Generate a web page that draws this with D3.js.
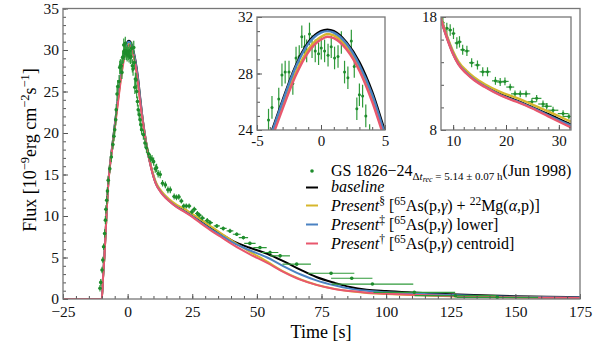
<!DOCTYPE html>
<html>
<head>
<meta charset="utf-8">
<script src="https://cdn.jsdelivr.net/npm/d3@7"></script>
<style>
  body { margin: 0; background: #fff; }
  figure { margin: 0; }
  svg { display: block; }
</style>
</head>
<body>
<figure></figure>
<script>
// model light curves, flux in 1e-9 erg/cm2/s
const modelTime = [-25, -10, -9.5, -9, -8.5, -8, -7.5, -7, -6, -5, -4, -3, -2, -1, 0, 0.5, 1, 2, 3, 4, 5, 6, 7, 8, 9, 10, 11, 12.5, 14, 16, 19, 22, 25, 28, 32, 36, 41, 47, 54, 60, 67, 73, 80, 86, 92.5, 100, 110, 125, 137, 150, 162, 175]
const baseline    = [0, 0, 2.7, 5.1, 8.1, 11.3, 13.9, 15.7, 18.3, 20.9, 23.5, 26.1, 28.5, 30.2, 31.0, 31.1, 31.0, 30.2, 28.8, 26.7, 23.9, 21.3, 19.2, 17.4, 16.0, 14.8, 13.9, 13.1, 12.5, 11.9, 11.15, 10.6, 10.0, 9.4, 8.55, 7.85, 6.95, 6.2, 5.45, 4.6, 3.5, 2.65, 1.95, 1.45, 1.12, 0.95, 0.78, 0.57, 0.44, 0.33, 0.26, 0.21]
const presentSect = [0, 0, 2.6, 5.0, 8.0, 11.2, 13.8, 15.6, 18.1, 20.6, 23.2, 25.7, 28.0, 29.7, 30.6, 30.8, 30.7, 29.9, 28.4, 26.2, 23.5, 21.2, 19.2, 17.5, 16.1, 14.95, 14.05, 13.25, 12.65, 12.05, 11.35, 10.85, 10.25, 9.65, 8.8, 7.95, 6.9, 5.75, 4.5, 3.35, 2.35, 1.72, 1.22, 0.92, 0.72, 0.6, 0.47, 0.33, 0.25, 0.19, 0.15, 0.12]
const presentDdag = [0, 0, 2.7, 5.1, 8.1, 11.3, 13.9, 15.6, 18.2, 20.8, 23.4, 26.0, 28.4, 30.1, 30.9, 31.0, 30.9, 30.1, 28.6, 26.5, 23.7, 21.2, 19.1, 17.35, 15.95, 14.75, 13.85, 13.05, 12.45, 11.85, 11.1, 10.55, 9.95, 9.3, 8.45, 7.7, 6.75, 5.9, 5.0, 4.0, 2.95, 2.25, 1.65, 1.25, 0.98, 0.82, 0.65, 0.47, 0.36, 0.27, 0.21, 0.17]
const presentDag  = [0, 0, 2.6, 5.0, 8.0, 11.2, 13.8, 15.5, 18.0, 20.5, 23.0, 25.5, 27.8, 29.5, 30.4, 30.6, 30.5, 29.7, 28.2, 26.0, 23.3, 21.0, 19.0, 17.3, 15.9, 14.7, 13.8, 13.0, 12.4, 11.8, 11.05, 10.5, 9.9, 9.2, 8.3, 7.5, 6.5, 5.45, 4.35, 3.3, 2.3, 1.7, 1.2, 0.95, 0.76, 0.64, 0.5, 0.35, 0.27, 0.2, 0.16, 0.13]

// GS 1826-24 burst (Jun 1998)
const obsTime = [-10.7, -10.4, -9.9, -9.6, -9.3, -8.9, -8.6, -8.4, -8.1, -7.8, -7.5, -6.9, -6.3, -5.7, -5.3, -5.0, -4.6, -4.4,
  -4.1, -3.83, -3.3, -3.05, -2.8, -2.5, -2.2, -1.95, -1.7, -1.5, -1.28, -1.12, -0.9, -0.7, -0.45, -0.19, 0.02, 0.28, 0.55, 0.8, 1.06, 1.33, 1.59, 1.84, 2.1, 2.37, 2.6, 2.8, 3.0, 3.25, 3.5,
  3.8, 4.1, 4.5, 4.8, 5.1, 5.4, 6.1, 6.7, 7.3, 8.06, 8.8, 9.44, 10.06, 10.7, 11.2, 11.8, 12.6, 13.5, 14.6, 15.6, 16.5, 18.0, 18.9, 19.8, 20.8, 21.7, 22.7, 23.8, 24.9, 25.8, 27.0, 27.7, 28.9, 30.8,
  31.9, 34.5, 37.0, 39.6, 42.2, 44.8, 47.3, 51.2, 55.1, 59.0, 65.4, 78.7, 86.7, 94.7, 110.9, 126.8, 143.0]
const obsFlux = [1.3, 2.0, 3.5, 4.7, 6.3, 7.9, 9.5, 10.8, 11.9, 13.0, 14.3, 15.7, 17.1, 18.6, 19.6, 20.4, 21.6, 22.8,
  24.7, 25.6, 26.2, 27.9, 28.1, 28.1, 27.3, 29.1, 29.2, 30.6, 29.9, 29.6, 30.8, 29.9, 29.6, 29.4, 29.8, 29.6, 29.3, 29.9, 29.1, 29.2, 30.2, 28.1, 27.7, 30.3, 28.5, 25.5, 26.5, 26.4, 25.0,
  23.8, 22.8, 22.2, 21.6, 21.0, 20.4, 19.8, 18.8, 18.2, 17.5, 17.0, 16.85, 16.55, 15.7, 15.8, 15.1, 15.0, 13.95, 13.75, 13.15, 13.15, 12.35, 12.25, 12.3, 11.8, 11.2, 11.2, 11.2, 10.5, 10.8, 10.3, 10.1, 9.75, 9.45,
  9.2, 8.8, 8.5, 8.2, 7.8, 7.4, 6.7, 6.2, 5.6, 5.2, 4.2, 3.1, 2.5, 1.8, 0.8, 0.4, 0.2]
const obsTimeErr = [0, 0, 0, 0, 0, 0, 0, 0, 0, 0, 0, 0, 0, 0, 0, 0, 0, 0,
  0, 0, 0, 0, 0, 0, 0, 0, 0, 0, 0, 0, 0, 0, 0, 0, 0, 0, 0, 0, 0, 0, 0, 0, 0, 0, 0, 0, 0, 0, 0,
  0.15, 0.15, 0.15, 0.15, 0.15, 0.15, 0.3, 0.3, 0.3, 0.3, 0.35, 0.35, 0.35, 0.4, 0.4, 0.45, 0.5, 0.5, 0.55, 0.6, 0.6, 0.65, 0.7, 0.7, 0.75, 0.75, 0.8, 0.8, 0.85, 0.9, 0.9, 0.95, 1.0, 1.0,
  1.1, 1.2, 1.3, 1.3, 1.5, 1.8, 2.2, 2.6, 3.2, 3.8, 5.5, 9.0, 8.0, 15.8, 15.8, 15.8, 15.8]
const obsFluxErr = [0.4, 0.4, 0.4, 0.4, 0.4, 0.5, 0.5, 0.5, 0.5, 0.5, 0.5, 0.5, 0.6, 0.6, 0.6, 0.6, 0.7, 0.7,
  0.8, 0.8, 0.8, 0.8, 0.8, 0.8, 0.8, 0.8, 0.8, 0.8, 0.8, 0.8, 0.8, 0.8, 0.8, 0.8, 0.8, 0.8, 0.8, 0.8, 0.8, 0.8, 0.8, 0.8, 0.8, 0.8, 0.8, 0.8, 0.8, 0.8, 0.8,
  0.6, 0.6, 0.6, 0.6, 0.6, 0.6, 0.6, 0.6, 0.6, 0.5, 0.5, 0.5, 0.5, 0.5, 0.5, 0.45, 0.45, 0.4, 0.4, 0.4, 0.4, 0.35, 0.35, 0.35, 0.3, 0.3, 0.3, 0.3, 0.3, 0.3, 0.3, 0.3, 0.3, 0.3,
  0.25, 0.25, 0.25, 0.25, 0.2, 0.2, 0.2, 0.2, 0.2, 0.2, 0.15, 0.15, 0.15, 0.1, 0.1, 0.1, 0.1]

// tick labels
const mainXTicks = [-25, 0, 25, 50, 75, 100, 125, 150, 175]
const mainYTicks = [0, 5, 10, 15, 20, 25, 30, 35]
const peakXTicks = [-5, 0, 5]
const peakYTicks = [24, 28, 32]
const tailXTicks = [10, 20, 30]
const tailYTicks = [8, 18]

const legendLabels = ['baseline', 'Present§', 'Present‡', 'Present†']

const serif = 'Liberation Serif'

const models = [
  {values: baseline,    color: '#000000'},
  {values: presentSect, color: '#d6b62c'},
  {values: presentDdag, color: '#4b82c2'},
  {values: presentDag,  color: '#e8576d'}
]
const dataGreen = '#1e8c2c'

const obs = obsTime.map((t, i) => ({t: t, f: obsFlux[i], dt: obsTimeErr[i], df: obsFluxErr[i]}))

const svg = d3.select('figure')
  .append('svg')
    .attr('width', 600)
    .attr('height', 341)
    .attr('font-family', serif)

function range(a, b, s) {
  const out = []
  for (let v = a; v <= b + 1e-9; v += s) out.push(+v.toFixed(6))
  return out
}

function drawPanel(p) {
  const g = svg.append('g')
  const x = d3.scaleLinear().domain(p.xDomain).range([p.left, p.right])
  const y = d3.scaleLinear().domain(p.yDomain).range([p.bottom, p.top])

  g.append('rect')
      .attr('x', p.left).attr('y', p.top)
      .attr('width', p.right - p.left).attr('height', p.bottom - p.top)
      .attr('fill', '#fff')

  g.append('clipPath').attr('id', 'clip-' + p.name)
    .append('rect')
      .attr('x', p.left).attr('y', p.top)
      .attr('width', p.right - p.left).attr('height', p.bottom - p.top)

  const plot = g.append('g').attr('clip-path', 'url(#clip-' + p.name + ')')

  const line = d3.line()
      .curve(d3.curveMonotoneX)
      .x(d => x(d[0]))
      .y(d => y(d[1]))

  function drawModels() {
    models.forEach(m => {
      plot.append('path')
          .datum(modelTime.map((t, i) => [t, m.values[i]]))
          .attr('d', line)
          .attr('fill', 'none')
          .attr('stroke', m.color)
          .attr('stroke-width', p.lineWidth)
    })
  }

  function drawData() {
    const dg = plot.append('g')
    dg.selectAll('line.ye').data(obs).join('line')
        .attr('x1', d => x(d.t)).attr('x2', d => x(d.t))
        .attr('y1', d => y(d.f - d.df)).attr('y2', d => y(d.f + d.df))
        .attr('stroke', '#2f9a3a').attr('stroke-width', 1.2)
    dg.selectAll('line.xe').data(obs.filter(d => d.dt > 0)).join('line')
        .attr('x1', d => x(d.t - d.dt)).attr('x2', d => x(d.t + d.dt))
        .attr('y1', d => y(d.f)).attr('y2', d => y(d.f))
        .attr('stroke', '#2f9a3a').attr('stroke-width', 1.2)
    dg.selectAll('circle').data(obs).join('circle')
        .attr('cx', d => x(d.t)).attr('cy', d => y(d.f))
        .attr('r', p.dotR)
        .attr('fill', dataGreen)
  }

  if (p.dataOnTop) { drawModels(); drawData() }
  else { drawData(); drawModels() }

  // axes, ticks pointing inward
  const bottom = g.append('g')
      .attr('transform', 'translate(0,' + p.bottom + ')')
      .call(d3.axisBottom(x).tickValues(p.xMinor).tickSize(-3).tickFormat(''))
  bottom.append('g')
      .call(d3.axisBottom(x).tickValues(p.xTicks).tickSize(-5).tickPadding(p.xPad).tickFormat(p.xFmt))
  const left = g.append('g')
      .attr('transform', 'translate(' + p.left + ',0)')
      .call(d3.axisLeft(y).tickValues(p.yMinor).tickSize(-3).tickFormat(''))
  left.append('g')
      .call(d3.axisLeft(y).tickValues(p.yTicks).tickSize(-5).tickPadding(4).tickFormat(d3.format('d')))

  g.selectAll('.domain').remove()
  g.selectAll('g[font-family]').attr('font-family', serif)
  g.selectAll('.tick line').attr('stroke', '#555').attr('stroke-width', 1)
  g.selectAll('.tick text')
      .attr('fill', '#111')
      .attr('font-size', p.fontSize)

  g.append('rect')
      .attr('x', p.left).attr('y', p.top)
      .attr('width', p.right - p.left).attr('height', p.bottom - p.top)
      .attr('fill', 'none')
      .attr('stroke', '#777')
      .attr('stroke-width', 1.3)
}

drawPanel({
  name: 'main', left: 63, right: 580, top: 8.5, bottom: 299,
  xDomain: [-25, 175], yDomain: [0, 35],
  xTicks: mainXTicks, yTicks: mainYTicks,
  xMinor: range(-25, 175, 5), yMinor: range(0, 35, 1),
  xFmt: d => d < 0 ? '\u2212' + Math.abs(d) : d,
  xPad: 7, fontSize: 15.5, lineWidth: 2, dotR: 1.8, dataOnTop: true
})

drawPanel({
  name: 'peak', left: 257, right: 385, top: 17, bottom: 130,
  xDomain: [-5, 5], yDomain: [24, 32],
  xTicks: peakXTicks, yTicks: peakYTicks,
  xMinor: range(-5, 5, 1), yMinor: range(24, 32, 1),
  xFmt: d => d, xPad: 5, fontSize: 15, lineWidth: 2.4, dotR: 1.5, dataOnTop: false
})

drawPanel({
  name: 'tail', left: 441, right: 571, top: 17, bottom: 130,
  xDomain: [7.7, 32.3], yDomain: [8, 18],
  xTicks: tailXTicks, yTicks: tailYTicks,
  xMinor: range(10, 32, 2), yMinor: range(8, 18, 2),
  xFmt: d => d, xPad: 5, fontSize: 15, lineWidth: 2.4, dotR: 1.5, dataOnTop: false
})

// axis titles
svg.append('text')
    .attr('x', 321).attr('y', 338)
    .attr('text-anchor', 'middle')
    .attr('font-size', 18)
    .text('Time [s]')

const yTitle = svg.append('text')
    .attr('transform', 'translate(36,150) rotate(-90)')
    .attr('text-anchor', 'middle')
    .attr('font-size', 18)
yTitle.append('tspan').text('Flux [10')
yTitle.append('tspan').attr('dy', -7).attr('font-size', 12.5).text('\u22129')
yTitle.append('tspan').attr('dy', 7).text('erg cm')
yTitle.append('tspan').attr('dy', -7).attr('font-size', 12.5).text('\u22122')
yTitle.append('tspan').attr('dy', 7).text('s')
yTitle.append('tspan').attr('dy', -7).attr('font-size', 12.5).text('\u22121')
yTitle.append('tspan').attr('dy', 7).text(']')

// legend
const leg = svg.append('g').attr('font-size', 16)
const rowY = [171, 187.5, 205.5, 224.5, 243.5]

leg.append('circle').attr('cx', 312).attr('cy', rowY[0]).attr('r', 1.8).attr('fill', dataGreen)
const t0 = leg.append('text').attr('x', 331).attr('y', rowY[0] + 5)
t0.append('tspan').text('GS 1826\u221224')
t0.append('tspan').attr('dy', 4).attr('font-size', 11).text('\u0394')
t0.append('tspan').attr('font-size', 11).attr('font-style', 'italic').text('t')
t0.append('tspan').attr('dy', 2).attr('font-size', 8).attr('font-style', 'italic').text('rec')
t0.append('tspan').attr('dy', -2).attr('font-size', 11).text(' = 5.14 \u00b1 0.07 h')
t0.append('tspan').attr('dy', -4).text('(Jun 1998)')

models.forEach((m, i) => {
  leg.append('line')
      .attr('x1', 306).attr('x2', 318)
      .attr('y1', rowY[i + 1]).attr('y2', rowY[i + 1])
      .attr('stroke', m.color).attr('stroke-width', 2)
})

const t1 = leg.append('text').attr('x', 331).attr('y', rowY[1] + 4)
t1.append('tspan').attr('font-style', 'italic').text(legendLabels[0])

// "Present" rows with isotope superscripts
const reactions = [
  [['65', 'As(p,'], ['γ'], ['', ') + '], ['22', 'Mg('], ['α'], ['', ',p)]']],
  [['65', 'As(p,'], ['γ'], ['', ') lower]']],
  [['65', 'As(p,'], ['γ'], ['', ') centroid]']]
]
reactions.forEach((parts, i) => {
  const lbl = legendLabels[i + 1]
  const t = leg.append('text').attr('x', 331).attr('y', rowY[i + 2] + 5)
  t.append('tspan').attr('font-style', 'italic').text(lbl.slice(0, -1))
  t.append('tspan').attr('dy', -6).attr('font-size', 11.5).text(lbl.slice(-1))
  t.append('tspan').attr('dy', 6).text(' [')
  parts.forEach(pt => {
    if (pt.length === 1) {
      t.append('tspan').attr('font-style', 'italic').text(pt[0])
    } else if (pt[0]) {
      t.append('tspan').attr('dy', -6).attr('font-size', 11.5).text(pt[0])
      t.append('tspan').attr('dy', 6).text(pt[1])
    } else {
      t.append('tspan').text(pt[1])
    }
  })
})
</script>
</body>
</html>
